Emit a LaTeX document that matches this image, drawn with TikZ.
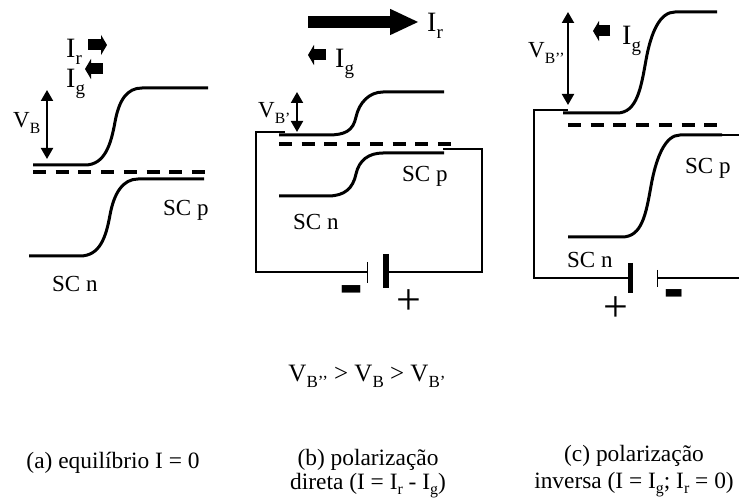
\documentclass[tikz,border=0pt]{standalone}
\usepackage{fontspec}
\setmainfont{Liberation Serif}
\usetikzlibrary{arrows.meta}
\newcommand{\idx}[1]{\raisebox{-0.22em}{\scalebox{0.68}{#1}}}
\tikzset{
  band/.style={line width=3pt},
  fermi/.style={line width=3.6pt, dash pattern=on 13pt off 9.7pt},
  wire/.style={line width=2pt},
  barrier/.style={line width=2pt, {Triangle[length=11pt,width=12pt]}-{Triangle[length=11pt,width=12pt]}},
  smallblock/.style={line width=11pt, -{Triangle[length=6pt,width=20pt]}},
  bigblock/.style={line width=12pt, -{Triangle[length=29pt,width=24pt]}},
  lbl/.style={anchor=base west, inner sep=0pt, font=\fontsize{23}{25}\selectfont},
  curr/.style={anchor=base west, inner sep=0pt, font=\fontsize{28}{30}\selectfont},
  capt/.style={anchor=base, inner sep=0pt, align=center, font=\fontsize{23.4}{25}\selectfont},
  sign/.style={inner sep=0pt, font=\fontsize{44}{46}\selectfont},
  dashsign/.style={inner sep=0pt, font=\fontsize{36}{38}\selectfont},
}
\begin{document}
\begin{tikzpicture}[x=1pt,y=-1pt]
        \useasboundingbox (0,0) rectangle (739,502);
        % (a) equilibrium
        \draw [band] (33,165) -- (85,165) .. controls +(20,0) and +(-4,22) .. (115,122) .. controls +(4,-22) and +(-15,0) .. (142,88) -- (208,88);
        \draw [band] (29,256) -- (80,256) .. controls +(20,0) and +(-4,22) .. (110,215) .. controls +(4,-22) and +(-15,0) .. (138,179) -- (204,179);
        \draw [fermi] (33,172) -- (205,172);
        \coordinate (vatop) at (47,90);
        \coordinate (vabot) at (47,159);
        \draw [barrier] (vatop) -- (vabot);
        \coordinate (irs) at (88,45);
        \coordinate (irt) at (107,45);
        \coordinate (igs) at (103,69);
        \coordinate (igt) at (85,69);
        \draw [smallblock] (irs) -- (irt);
        \draw [smallblock] (igs) -- (igt);
        \node [curr] (ira) at (66,58) {I\idx{r}};
        \node [curr] (iga) at (66,88) {I\idx{g}};
        \node [lbl] (vba) at (13,128) {V\idx{B}};
        \node [lbl] (pa) at (163,216) {SC p};
        \node [lbl] (na) at (52,292) {SC n};
        % (b) forward bias
        \draw [band] (279,135) -- (328,135) .. controls +(17,0) and +(-3,14) .. (356,117) .. controls +(3,-14) and +(-14,0) .. (383,92) -- (444,92);
        \draw [band] (279,196) -- (328,196) .. controls +(17,0) and +(-3,14) .. (356,174) .. controls +(3,-14) and +(-14,0) .. (383,153) -- (444,153);
        \draw [fermi] (279,144) -- (451,144);
        \coordinate (vbtop) at (297,92);
        \coordinate (vbbot) at (297,132);
        \draw [barrier] (vbtop) -- (vbbot);
        \coordinate (bigs) at (308,22);
        \coordinate (bigt) at (419,22);
        \coordinate (igbs) at (326,55);
        \coordinate (igbt) at (308,55);
        \draw [bigblock] (bigs) -- (bigt);
        \draw [smallblock] (igbs) -- (igbt);
        \coordinate (bn) at (285,132);
        \coordinate (bp) at (443,149);
        \coordinate (bthin) at (367,272);
        \coordinate (bthick) at (386,272);
        \draw [wire] (bn) -- (256,132) |- (bthin);
        \draw [wire] (bp) -- (482,149) |- (bthick);
        \draw [line width=1pt] (367,262) -- (367,283);
        \draw [line width=6pt] (386,254) -- (386,288);
        \node [curr] (irb) at (427,32) {I\idx{r}};
        \node [curr] (igb) at (335,68) {I\idx{g}};
        \node [lbl] (vbb) at (258,118) {V\idx{B’}};
        \node [lbl] (pb) at (402,182) {SC p};
        \node [lbl] (nb) at (293,230) {SC n};
        \node [dashsign] (mb) at (352,300) {\scalebox{1}[3]{\textbf{--}}};
        \node [sign] (sb) at (409,302) {+};
        % (c) reverse bias
        \draw [band] (563,113) -- (617,113) .. controls +(20,0) and +(-5,28) .. (646,60) .. controls +(5,-28) and +(-15,0) .. (675,12) -- (717,12);
        \draw [band] (568,237) -- (622,237) .. controls +(20,0) and +(-5,28) .. (651,186) .. controls +(5,-28) and +(-15,0) .. (680,135) -- (722,135);
        \draw [fermi] (568,125) -- (718,125);
        \coordinate (vctop) at (568,12);
        \coordinate (vcbot) at (568,105);
        \draw [barrier] (vctop) -- (vcbot);
        \coordinate (igcs) at (610,31);
        \coordinate (igct) at (593,31);
        \draw [smallblock] (igcs) -- (igct);
        \coordinate (cn) at (568,110);
        \coordinate (cp) at (722,135);
        \coordinate (cthick) at (630,278);
        \coordinate (cthin) at (657,278);
        \draw [wire] (cn) -- (534,110) |- (cthick);
        \draw [wire] (cthin) -- (739,278);
        \draw [wire] (cp) -- (739,135);
        \draw [line width=5pt] (630,263) -- (630,293);
        \draw [line width=1pt] (657,270) -- (657,287);
        \node [curr] (igc) at (622,45) {I\idx{g}};
        \node [lbl] (vbc) at (528,58) {V\idx{B’’}};
        \node [lbl] (pc) at (685,174) {SC p};
        \node [lbl] (nc) at (567,268) {SC n};
        \node [dashsign] (mc) at (674,304) {\scalebox{0.85}[3]{\textbf{--}}};
        \node [sign] (sc) at (616,309) {+};
        % captions
        \node [capt, font=\fontsize{25}{27}\selectfont] (rel) at (367,382) {V\idx{B’’} > V\idx{B} > V\idx{B’}};
        \node [capt] (capa) at (113,468) {(a) equilíbrio I = 0};
        \node [capt] (capb) at (368,489) {(b) polarização\\[-1pt]direta (I = I\idx{r} - I\idx{g})};
        \node [capt] (capc) at (634,488) {(c) polarização\\[2pt]inversa (I = I\idx{g}; I\idx{r} = 0)};
\end{tikzpicture}
\end{document}
